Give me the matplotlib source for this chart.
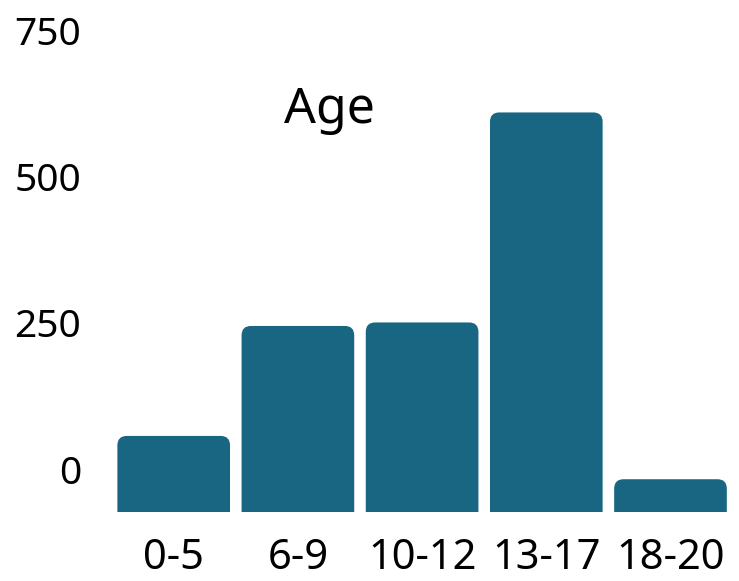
import matplotlib
matplotlib.use("Agg")
import matplotlib.pyplot as plt
from matplotlib.path import Path
from matplotlib.patches import PathPatch
from matplotlib.transforms import ScaledTranslation

# Age distribution
age_groups = ["0-5", "6-9", "10-12", "13-17", "18-20"]
counts = [130, 318, 324, 683, 56]
y_ticks = [0, 250, 500, 750]

bar_color = "#186682"
plt.rcParams["font.family"] = ["Noto Sans", "DejaVu Sans"]

fig = plt.figure(figsize=(7.39, 5.81), dpi=100)
ax = fig.add_axes([111.6 / 739, 69 / 581, 621 / 739, (512 - 20.6) / 581])

bars = ax.bar(range(len(age_groups)), counts, width=0.907, color=bar_color)
ax.set_xlim(-0.5, len(age_groups) - 0.5)
ax.set_ylim(0, 840)

# rounded top corners
rx, ry = 0.075, 16
for b in bars:
    x0, y0 = b.get_x(), b.get_y()
    x1, y1 = x0 + b.get_width(), y0 + b.get_height()
    verts = [(x0, y0), (x0, y1 - ry), (x0, y1), (x0 + rx, y1),
             (x1 - rx, y1), (x1, y1), (x1, y1 - ry), (x1, y0), (x0, y0)]
    codes = [Path.MOVETO, Path.LINETO, Path.CURVE3, Path.CURVE3,
             Path.LINETO, Path.CURVE3, Path.CURVE3, Path.LINETO, Path.CLOSEPOLY]
    ax.add_patch(PathPatch(Path(verts, codes), facecolor=bar_color, edgecolor="none"))
    b.set_visible(False)

ax.set_xticks(range(len(age_groups)))
ax.set_xticklabels(age_groups, fontsize=30)
ax.set_yticks(y_ticks)
ax.set_yticklabels([str(t) for t in y_ticks], fontsize=28)
ax.tick_params(axis="both", length=0, colors="black")
ax.tick_params(axis="x", pad=18)
ax.tick_params(axis="y", pad=22)

for lab in ax.get_yticklabels():
    lab.set_transform(lab.get_transform() + ScaledTranslation(0, 43 / 100, fig.dpi_scale_trans))

for s in ax.spines.values():
    s.set_visible(False)

fig.text(329 / 739, 1 - 122.7 / 581, "Age", ha="center", va="baseline", fontsize=36)

fig.savefig("out.png", dpi=100)
